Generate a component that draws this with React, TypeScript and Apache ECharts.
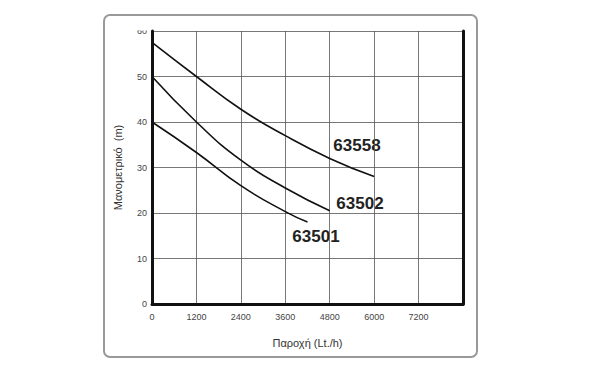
import React, { useEffect, useRef } from "react";
import * as echarts from "echarts";

const xTicks = [0, 1200, 2400, 3600, 4800, 6000, 7200];
const s63558: [number, number][] = [[0, 57.5], [1200, 50], [2400, 42.8], [3600, 37], [4800, 32], [6000, 28]];
const s63502: [number, number][] = [[0, 50], [1200, 40], [2400, 31.6], [3600, 25.5], [4800, 20.5]];
const s63501: [number, number][] = [[0, 40], [1200, 33.3], [2400, 26], [3600, 20.3], [4200, 18]];
const seriesNames = ["63558", "63502", "63501"];

export default function App() {
  const ref = useRef<HTMLDivElement>(null);
  useEffect(() => {
    const chart = echarts.init(ref.current!, null, { renderer: "svg" });
    const font = "'Liberation Sans', Arial, sans-serif";
    const mk = (name: string, data: [number, number][]) => ({
      name,
      type: "line",
      data,
      smooth: true,
      symbol: "none",
      lineStyle: { color: "#111", width: 1.6 },
    });
    chart.setOption({
      animation: false,
      grid: { left: 152, right: 127, top: 31, bottom: 68, containLabel: false },
      xAxis: {
        type: "value",
        min: 0,
        max: 8400,
        interval: 1200,
        name: "Παροχή (Lt./h)",
        nameLocation: "middle",
        nameGap: 33,
        nameTextStyle: { fontFamily: font, fontSize: 11, color: "#333" },
        axisLine: { show: true, lineStyle: { color: "#111", width: 3 } },
        axisTick: { show: false },
        axisLabel: {
          fontFamily: font,
          fontSize: 9,
          color: "#444",
          margin: 8,
          formatter: (v: number) => (xTicks.includes(v) ? String(v) : ""),
        },
        splitLine: { show: true, lineStyle: { color: "#555", width: 0.8 } },
      },
      yAxis: [
        {
          type: "value",
          min: 0,
          max: 60,
          interval: 10,
          name: "Μανομετρικό  (m)",
          nameLocation: "middle",
          nameGap: 29,
          nameRotate: 90,
          nameTextStyle: { fontFamily: font, fontSize: 11, color: "#333" },
          axisLine: { show: true, lineStyle: { color: "#111", width: 3 } },
          axisTick: { show: false },
          axisLabel: { fontFamily: font, fontSize: 9, color: "#444", margin: 5 },
          splitLine: { show: true, lineStyle: { color: "#555", width: 0.8 } },
        },
        {
          type: "value",
          min: 0,
          max: 60,
          interval: 10,
          position: "right",
          axisLine: { show: true, lineStyle: { color: "#111", width: 3 } },
          axisTick: { show: false },
          axisLabel: { show: false },
          splitLine: { show: false },
        },
      ],
      series: [mk(seriesNames[0], s63558), mk(seriesNames[1], s63502), mk(seriesNames[2], s63501)],
      graphic: [
        {
          type: "rect",
          shape: { x: 104, y: 15, width: 373, height: 342, r: 6 },
          style: { fill: "none", stroke: "#999", lineWidth: 2 },
          z: -1,
        },
        {
          type: "rect",
          shape: { x: 128, y: 17, width: 20, height: 13.5 },
          style: { fill: "#fff" },
          z: 100,
        },
        {
          type: "text",
          x: 357,
          y: 145,
          style: { text: seriesNames[0], fontFamily: font, fontSize: 17, fontWeight: "bold", fill: "#222", align: "center", verticalAlign: "middle" },
        },
        {
          type: "text",
          x: 360,
          y: 203,
          style: { text: seriesNames[1], fontFamily: font, fontSize: 17, fontWeight: "bold", fill: "#222", align: "center", verticalAlign: "middle" },
        },
        {
          type: "text",
          x: 316,
          y: 236,
          style: { text: seriesNames[2], fontFamily: font, fontSize: 17, fontWeight: "bold", fill: "#222", align: "center", verticalAlign: "middle" },
        },
      ],
    });
    return () => chart.dispose();
  }, []);
  return <div ref={ref} style={{ width: 590, height: 372, margin: -8 }} />;
}
